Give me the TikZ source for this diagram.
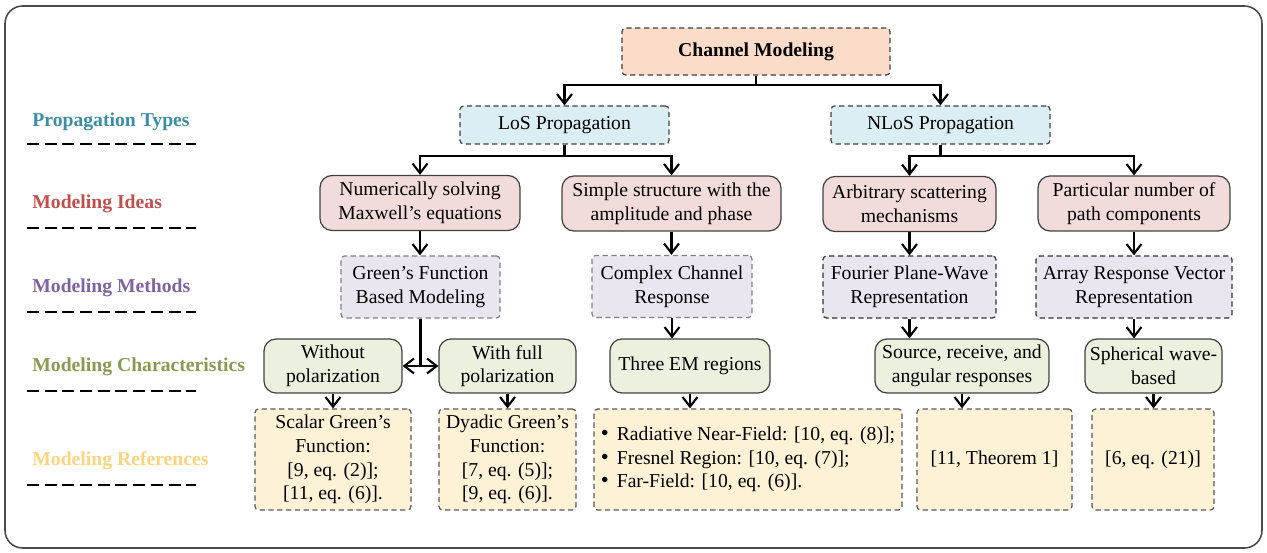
\documentclass[tikz,border=0pt]{standalone}
\usepackage{fontspec}
\setmainfont{Liberation Serif}
\usepackage{xcolor}
\usetikzlibrary{arrows.meta, positioning, calc}

\definecolor{rootfill}{HTML}{FBDCC9}
\definecolor{propfill}{HTML}{DBEEF3}
\definecolor{ideafill}{HTML}{F2DCDB}
\definecolor{methfill}{HTML}{E9E6EF}
\definecolor{charfill}{HTML}{EBF1DE}
\definecolor{reffill}{HTML}{FDF1D6}
\definecolor{lblprop}{HTML}{3B8EA5}
\definecolor{lblidea}{HTML}{C0504D}
\definecolor{lblmeth}{HTML}{8064A2}
\definecolor{lblchar}{HTML}{8B9A52}
\definecolor{lblref}{HTML}{FAD47E}
\newcommand{\diagfont}{\fontsize{11.2}{13.4}\selectfont}
\newcommand{\bigdot}{{\fontsize{13}{13.4}\selectfont\textbullet}\hspace{4.5pt}}

\begin{document}
\begin{tikzpicture}[x=0.02cm, y=-0.02cm,
  base/.style={inner sep=0pt, align=center, font=\diagfont, line width=0.7pt},
  root/.style={base, draw=black!75, fill=rootfill, dash pattern=on 3pt off 2pt,
               rounded corners=2pt, minimum width=5.36cm, minimum height=0.94cm,
               font=\diagfont\bfseries},
  prop/.style={base, draw=black!75, fill=propfill, dash pattern=on 3pt off 2pt,
               rounded corners=2pt, minimum height=0.76cm},
  idea/.style={base, draw=black!75, fill=ideafill, rounded corners=6.8pt,
               minimum height=1.1cm},
  meth/.style={base, draw=black!50, fill=methfill, dash pattern=on 3pt off 2pt,
               rounded corners=2pt, minimum height=1.24cm},
  chara/.style={base, draw=black!75, fill=charfill, rounded corners=6.8pt,
                minimum height=1.08cm},
  refs/.style={base, draw=black!65, fill=reffill, dash pattern=on 3pt off 2pt,
               rounded corners=2pt, minimum height=2.02cm},
  lbl/.style={anchor=west, inner sep=0pt, font=\diagfont\bfseries},
  sep/.style={line width=1.1pt, dash pattern=on 0.24cm off 0.114cm},
  link/.style={line width=1.2pt},
  arr/.style={link, -{Straight Barb[length=5.5pt,width=8.5pt]}}
]
\useasboundingbox (0,0) rectangle (1267,553);
\draw[line width=0.9pt, draw=black!70, rounded corners=10pt] (5,6) rectangle (1262,548);

% row labels
\node[lbl, text=lblprop] (tprop) at (32,122) {Propagation Types};
\node[lbl, text=lblidea] (tidea) at (32,204) {Modeling Ideas};
\node[lbl, text=lblmeth] (tmeth) at (32,288) {Modeling Methods};
\node[lbl, text=lblchar] (tchar) at (32,367) {Modeling Characteristics};
\node[lbl, text=lblref]  (tref)  at (32,461) {Modeling References};
\foreach \yy in {144,228,312,391,485}
  \draw[sep] (27,\yy) -- (196,\yy);

% tree
\node[root] (cm) at (756,51.5) {Channel Modeling};
\node[prop, minimum width=4.18cm] (los)  at (564.5,125) {LoS Propagation};
\node[prop, minimum width=4.38cm] (nlos) at (940.5,125) {NLoS Propagation};

\node[idea, minimum width=4cm]    (id1) at (420,203)    {Numerically solving\\Maxwell’s equations};
\node[idea, minimum width=4.38cm] (id2) at (671.5,203.5) {Simple structure with the\\amplitude and phase};
\node[idea, minimum width=3.46cm] (id3) at (909.5,204)  {Arbitrary scattering\\mechanisms};
\node[idea, minimum width=3.84cm] (id4) at (1134,203.5) {Particular number of\\path components};

\node[meth, minimum width=3.18cm] (me1) at (420.5,287) {Green’s Function\\Based Modeling};
\node[meth, minimum width=3.2cm]  (me2) at (672,286.5) {Complex Channel\\Response};
\node[meth, minimum width=3.46cm, draw=black!80] (me3) at (909.5,287) {Fourier Plane-Wave\\Representation};
\node[meth, minimum width=3.92cm, draw=black!80] (me4) at (1134,287)  {Array Response Vector\\Representation};

\node[chara, minimum width=2.76cm] (ch1) at (333,366)    {Without\\polarization};
\node[chara, minimum width=2.74cm] (ch2) at (507.5,366)  {With full\\polarization};
\node[chara, minimum width=3.2cm]  (ch3) at (690,366)    {Three EM regions};
\node[chara, minimum width=3.48cm] (ch4) at (962,366)    {Source, receive, and\\angular responses};
\node[chara, minimum width=2.74cm] (ch5) at (1153.5,366) {Spherical wave-\\based};

\node[refs, minimum width=3.12cm] (re1) at (333,459.5)   {Scalar Green’s\\Function:\\{[9, eq. (2)];}\\{[11, eq. (6)].}};
\node[refs, minimum width=2.74cm] (re2) at (507.5,459.5) {Dyadic Green’s\\Function:\\{[7, eq. (5)];}\\{[9, eq. (6)].}};
\node[refs, minimum width=6.16cm, align=left] (re3) at (748,459.5)
  {\bigdot Radiative Near-Field: [10, eq. (8)];\\
   \bigdot Fresnel Region: [10, eq. (7)];\\
   \bigdot Far-Field: [10, eq. (6)].};
\node[refs, minimum width=3.1cm]  (re4) at (994.5,459.5) {[11, Theorem 1]};
\node[refs, minimum width=2.44cm] (re5) at (1153,459.5)  {[6, eq. (21)]};

\draw[arr] (cm.south) -- ++(0,9) -| (los.north);
\draw[arr] (cm.south) -- ++(0,9) -| (nlos.north);
\draw[arr] (los.south) -- ++(0,11.5) -| (id1.north);
\draw[arr] (los.south) -- ++(0,11.5) -| (id2.north);
\draw[arr] (nlos.south) -- ++(0,11.5) -| (id3.north);
\draw[arr] (nlos.south) -- ++(0,11.5) -| (id4.north);

\draw[arr] (id1.south) -- (id1.south |- me1.north);
\draw[arr] (id2.south) -- (id2.south |- me2.north);
\draw[arr] (id3.south) -- (id3.south |- me3.north);
\draw[arr] (id4.south) -- (id4.south |- me4.north);

\coordinate (split) at (me1.south |- ch1.east);
\draw[link] (me1.south) -- (split);
\draw[arr] (split) -- (ch1.east);
\draw[arr] (split) -- (ch2.west);
\draw[arr] (me2.south) -- (me2.south |- ch3.north);
\draw[arr] (me3.south) -- (me3.south |- ch4.north);
\draw[arr] (me4.south) -- (me4.south |- ch5.north);

\draw[arr] (ch1.south) -- (ch1.south |- re1.north);
\draw[arr] (ch2.south) -- (ch2.south |- re2.north);
\draw[arr] (ch3.south) -- (ch3.south |- re3.north);
\draw[arr] (ch4.south) -- (ch4.south |- re4.north);
\draw[arr] (ch5.south) -- (ch5.south |- re5.north);
\end{tikzpicture}
\end{document}
